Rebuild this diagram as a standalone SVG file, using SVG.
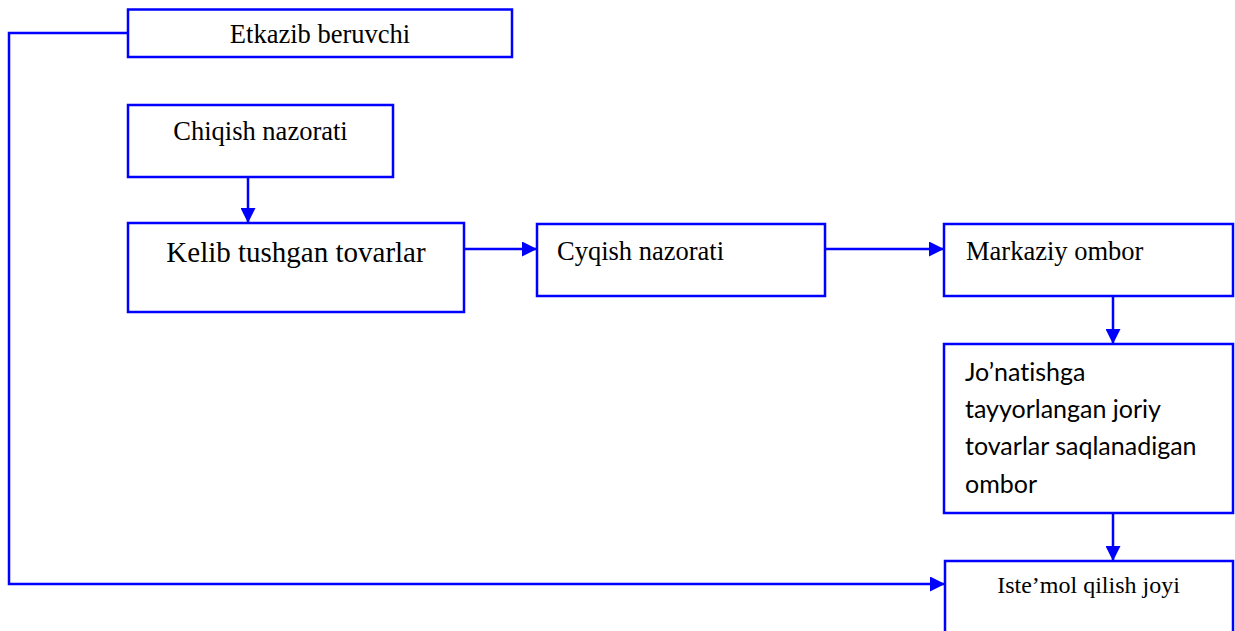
<svg xmlns="http://www.w3.org/2000/svg" width="1235" height="631" viewBox="0 0 1235 631">
<defs>
<marker id="ah" viewBox="0 0 15 15" refX="15" refY="7.5" markerWidth="15" markerHeight="15" markerUnits="userSpaceOnUse" orient="auto">
<path d="M0,0 L15,7.5 L0,15 Z" fill="#0000ff"/>
</marker>
<style>
.box{fill:#fff;stroke:#0000ff;stroke-width:2.5}
.t{font-family:"Liberation Serif","Times New Roman",serif;font-size:26.5px;fill:#000}
.s{font-family:Lato,"Noto Sans",sans-serif;font-size:25px;fill:#000;font-variant-ligatures:none}
.c{fill:none;stroke:#0000ff;stroke-width:2.5}
</style>
</defs>
<rect width="1235" height="631" fill="#fff"/>
<g id="connectors">
<path class="c" d="M128,33 H9 V584 H945" marker-end="url(#ah)"/>
<path class="c" d="M248,177 V223" marker-end="url(#ah)"/>
<path class="c" d="M464,249 H537" marker-end="url(#ah)"/>
<path class="c" d="M825,249 H944" marker-end="url(#ah)"/>
<path class="c" d="M1113,296 V344" marker-end="url(#ah)"/>
<path class="c" d="M1113,513 V561" marker-end="url(#ah)"/>
</g>
<g id="etkazib">
<rect class="box" x="128" y="9.5" width="384" height="47.5"/>
<text class="t" x="320" y="43" text-anchor="middle">Etkazib beruvchi</text>
</g>
<g id="chiqish">
<rect class="box" x="128" y="105" width="265" height="72"/>
<text class="t" x="260.5" y="140" text-anchor="middle">Chiqish nazorati</text>
</g>
<g id="kelib">
<rect class="box" x="128" y="223" width="336" height="89"/>
<text class="t" x="296" y="262" text-anchor="middle" style="font-size:29px">Kelib tushgan tovarlar</text>
</g>
<g id="cyqish">
<rect class="box" x="537" y="224" width="288" height="72"/>
<text class="t" x="557" y="260">Cyqish nazorati</text>
</g>
<g id="markaziy">
<rect class="box" x="944" y="224" width="289" height="72"/>
<text class="t" x="966" y="260">Markaziy ombor</text>
</g>
<g id="jonatish">
<rect class="box" x="944" y="344" width="289" height="169"/>
<text class="s" x="965" y="381">Jo’natishga</text>
<text class="s" x="965" y="418">tayyorlangan joriy</text>
<text class="s" x="965" y="455">tovarlar saqlanadigan</text>
<text class="s" x="965" y="493">ombor</text>
</g>
<g id="istemol">
<rect class="box" x="945" y="561" width="288" height="80"/>
<text class="t" x="1088.5" y="593" text-anchor="middle" style="font-size:24px">Iste’mol qilish joyi</text>
</g>
</svg>
